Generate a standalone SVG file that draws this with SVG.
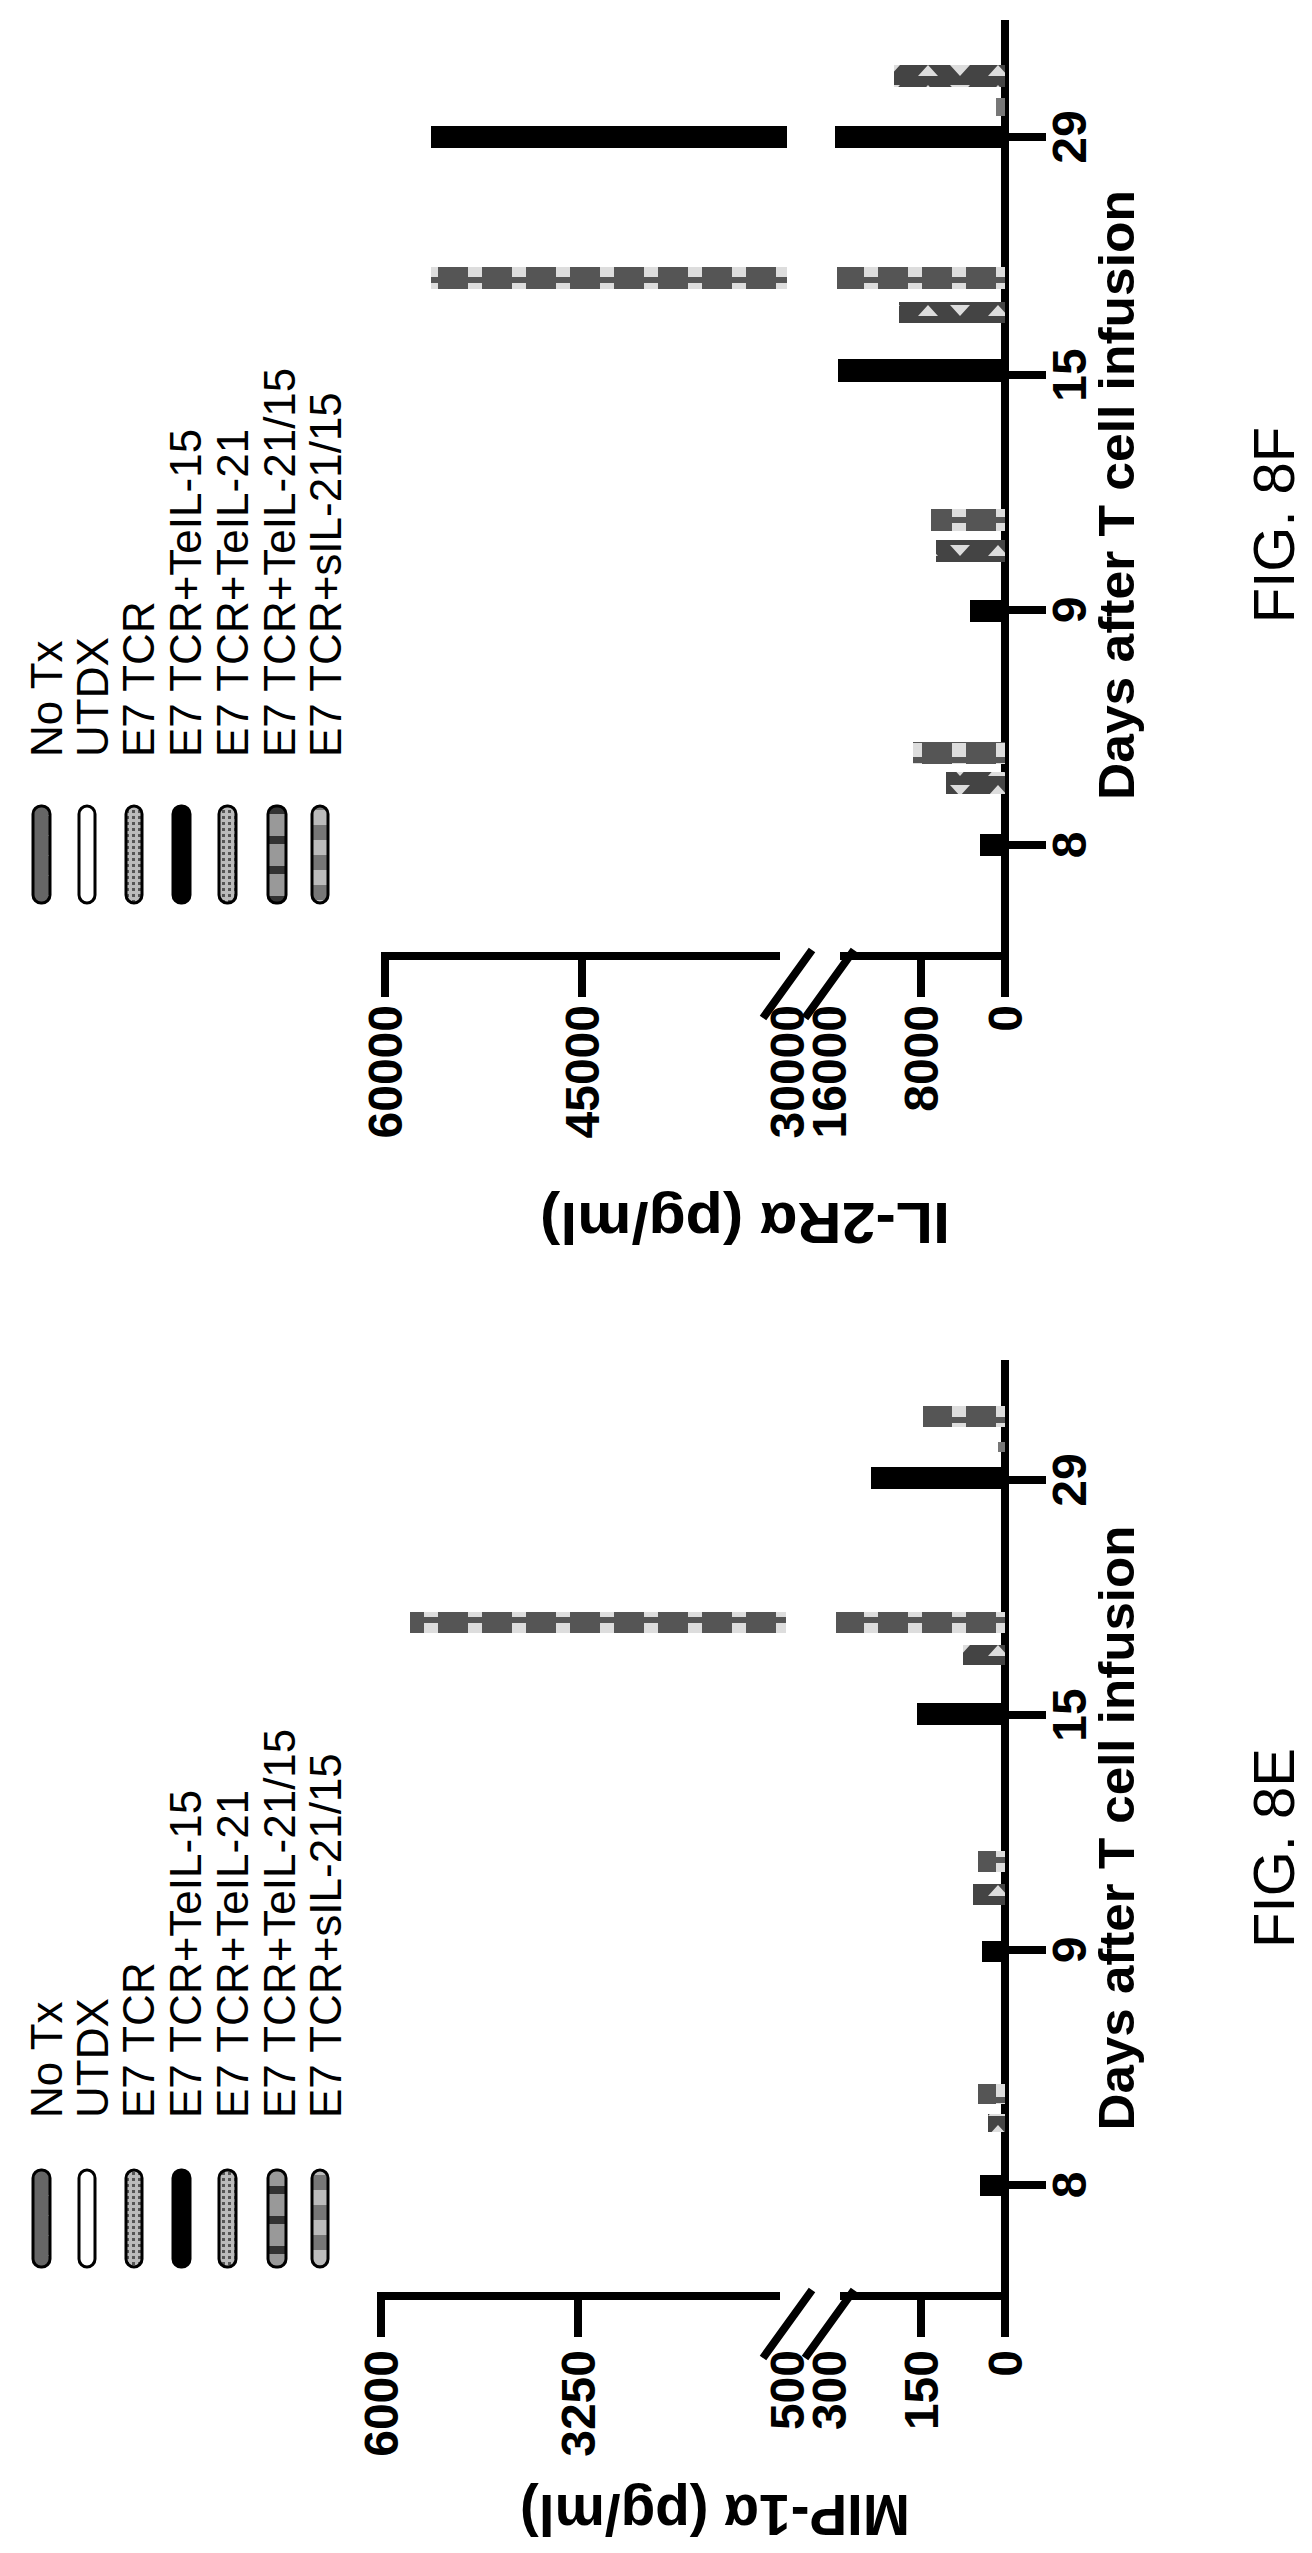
<svg xmlns="http://www.w3.org/2000/svg" width="1312" height="2553" viewBox="0 0 1312 2553">
<defs>
<pattern id="chk" width="44" height="20" patternUnits="userSpaceOnUse"><rect width="44" height="20" fill="#555"/><rect x="28" y="3" width="14" height="14" fill="#ddd"/></pattern>
<pattern id="tri" width="70" height="20" patternUnits="userSpaceOnUse"><rect width="70" height="20" fill="#444"/><path d="M8 16 L18 5 L28 16Z M40 5 L50 16 L60 5Z" fill="#ddd"/></pattern>
<pattern id="ltri" width="40" height="20" patternUnits="userSpaceOnUse"><rect width="40" height="20" fill="#666"/><path d="M8 16 L18 5 L28 16Z" fill="#eee"/></pattern>
<pattern id="dots" width="6" height="6" patternUnits="userSpaceOnUse"><rect width="6" height="6" fill="#bbb"/><rect width="3" height="3" fill="#555"/></pattern>
<pattern id="mid" width="6" height="30" patternUnits="userSpaceOnUse"><rect width="6" height="30" fill="#333"/><rect x="0" y="4" width="6" height="22" fill="#999"/></pattern>
<pattern id="lchk" width="6" height="30" patternUnits="userSpaceOnUse"><rect width="6" height="30" fill="#777"/><rect x="0" y="0" width="6" height="15" fill="#bbb"/></pattern>
</defs>
<style>
.ax{stroke:#000;stroke-width:8;fill:none}
.t{font-family:"Liberation Sans",Arial,sans-serif;fill:#000}
.b{font-weight:bold}
.sw{stroke:#000;stroke-width:3}
</style>

<g id="chart-8F">
<g id="legend-8F" class="t">
<rect class="sw" x="33" y="806" width="17" height="97" rx="8" fill="url(#ltri)"/>
<rect class="sw" x="79" y="806" width="16" height="97" rx="8" fill="#fff"/>
<rect class="sw" x="126" y="806" width="16" height="97" rx="8" fill="url(#dots)"/>
<rect class="sw" x="173" y="806" width="17" height="97" rx="8" fill="#000"/>
<rect class="sw" x="219" y="806" width="17" height="97" rx="8" fill="url(#dots)"/>
<rect class="sw" x="268" y="806" width="18" height="97" rx="8" fill="url(#mid)"/>
<rect class="sw" x="312" y="806" width="16" height="97" rx="8" fill="url(#lchk)"/>
<g font-size="44">
<text transform="translate(62,757) rotate(-90)">No Tx</text>
<text transform="translate(108,757) rotate(-90)">UTDX</text>
<text transform="translate(154,757) rotate(-90)">E7 TCR</text>
<text transform="translate(201,757) rotate(-90)">E7 TCR+TeIL-15</text>
<text transform="translate(248,757) rotate(-90)">E7 TCR+TeIL-21</text>
<text transform="translate(295,757) rotate(-90)">E7 TCR+TeIL-21/15</text>
<text transform="translate(341,757) rotate(-90)">E7 TCR+sIL-21/15</text>
</g>
</g>
<g id="axes-8F">
<path class="ax" d="M1005 20 V997 M1005 845 H1046 M1005 610 H1046 M1005 375 H1046 M1005 137 H1046"/>
<path class="ax" d="M385 997 V956 H780 M840 956 H1005 M582 956 V997 M921 956 V997"/>
<path class="ax" d="M763 1018 L812 950 M805 1018 L854 950"/>
</g>
<g id="bars-8F">
<rect x="980" y="834" width="25" height="22" fill="#000"/>
<rect x="946" y="772" width="59" height="22" fill="url(#tri)"/>
<rect x="913" y="742" width="92" height="22" fill="url(#chk)"/>
<rect x="970" y="600" width="35" height="22" fill="#000"/>
<rect x="936" y="540" width="69" height="22" fill="url(#tri)"/>
<rect x="931" y="509" width="74" height="22" fill="url(#chk)"/>
<rect x="838" y="359" width="167" height="23" fill="#000"/>
<rect x="899" y="302" width="106" height="21" fill="url(#tri)"/>
<rect x="837" y="267" width="168" height="22" fill="url(#chk)"/>
<rect x="431" y="267" width="356" height="22" fill="url(#chk)"/>
<rect x="835" y="126" width="170" height="22" fill="#000"/>
<rect x="431" y="126" width="356" height="22" fill="#000"/>
<rect x="996" y="98" width="9" height="18" fill="#777"/>
<rect x="894" y="65" width="111" height="22" fill="url(#tri)"/>
</g>
<g id="labels-8F" class="t b" font-size="48">
<text transform="translate(1086,845) rotate(-90)" text-anchor="middle">8</text>
<text transform="translate(1086,610) rotate(-90)" text-anchor="middle">9</text>
<text transform="translate(1086,375) rotate(-90)" text-anchor="middle">15</text>
<text transform="translate(1086,137) rotate(-90)" text-anchor="middle">29</text>
<text transform="translate(402,1005) rotate(-90)" text-anchor="end">60000</text>
<text transform="translate(599,1005) rotate(-90)" text-anchor="end">45000</text>
<text transform="translate(804,1005) rotate(-90)" text-anchor="end">30000</text>
<text transform="translate(846,1005) rotate(-90)" text-anchor="end">16000</text>
<text transform="translate(938,1005) rotate(-90)" text-anchor="end">8000</text>
<text transform="translate(1022,1005) rotate(-90)" text-anchor="end">0</text>
<text transform="translate(1134,495) rotate(-90)" text-anchor="middle" font-size="50" textLength="610" lengthAdjust="spacingAndGlyphs">Days after T cell infusion</text>
<text transform="translate(745,1203) rotate(180)" text-anchor="middle" font-size="58" textLength="410" lengthAdjust="spacingAndGlyphs">IL-2Rα (pg/ml)</text>
</g>
<text class="t" transform="translate(1294,525) rotate(-90)" text-anchor="middle" font-size="58">FIG. 8F</text>
</g>

<g id="chart-8E">
<g id="legend-8E" class="t">
<rect class="sw" x="33" y="2170" width="17" height="97" rx="8" fill="url(#ltri)"/>
<rect class="sw" x="79" y="2170" width="16" height="97" rx="8" fill="#fff"/>
<rect class="sw" x="126" y="2170" width="16" height="97" rx="8" fill="url(#dots)"/>
<rect class="sw" x="173" y="2170" width="17" height="97" rx="8" fill="#000"/>
<rect class="sw" x="219" y="2170" width="17" height="97" rx="8" fill="url(#dots)"/>
<rect class="sw" x="268" y="2170" width="18" height="97" rx="8" fill="url(#mid)"/>
<rect class="sw" x="312" y="2170" width="16" height="97" rx="8" fill="url(#lchk)"/>
<g font-size="44">
<text transform="translate(62,2118) rotate(-90)">No Tx</text>
<text transform="translate(108,2118) rotate(-90)">UTDX</text>
<text transform="translate(154,2118) rotate(-90)">E7 TCR</text>
<text transform="translate(201,2118) rotate(-90)">E7 TCR+TeIL-15</text>
<text transform="translate(248,2118) rotate(-90)">E7 TCR+TeIL-21</text>
<text transform="translate(295,2118) rotate(-90)">E7 TCR+TeIL-21/15</text>
<text transform="translate(341,2118) rotate(-90)">E7 TCR+sIL-21/15</text>
</g>
</g>
<g id="axes-8E">
<path class="ax" d="M1005 1360 V2337 M1005 2185 H1046 M1005 1950 H1046 M1005 1715 H1046 M1005 1480 H1046"/>
<path class="ax" d="M381 2337 V2296 H780 M840 2296 H1005 M578 2296 V2337 M921 2296 V2337"/>
<path class="ax" d="M763 2358 L812 2290 M805 2358 L854 2290"/>
</g>
<g id="bars-8E">
<rect x="980" y="2175" width="25" height="21" fill="#000"/>
<rect x="988" y="2114" width="17" height="18" fill="url(#tri)"/>
<rect x="978" y="2084" width="27" height="20" fill="url(#chk)"/>
<rect x="982" y="1941" width="23" height="21" fill="#000"/>
<rect x="973" y="1884" width="32" height="21" fill="url(#tri)"/>
<rect x="978" y="1851" width="27" height="21" fill="url(#chk)"/>
<rect x="917" y="1703" width="88" height="22" fill="#000"/>
<rect x="963" y="1645" width="42" height="20" fill="url(#tri)"/>
<rect x="836" y="1612" width="169" height="21" fill="url(#chk)"/>
<rect x="410" y="1612" width="376" height="21" fill="url(#chk)"/>
<rect x="871" y="1467" width="134" height="22" fill="#000"/>
<rect x="998" y="1442" width="7" height="10" fill="#777"/>
<rect x="923" y="1406" width="82" height="21" fill="url(#chk)"/>
</g>
<g id="labels-8E" class="t b" font-size="48">
<text transform="translate(1086,2185) rotate(-90)" text-anchor="middle">8</text>
<text transform="translate(1086,1950) rotate(-90)" text-anchor="middle">9</text>
<text transform="translate(1086,1715) rotate(-90)" text-anchor="middle">15</text>
<text transform="translate(1086,1480) rotate(-90)" text-anchor="middle">29</text>
<text transform="translate(398,2350) rotate(-90)" text-anchor="end">6000</text>
<text transform="translate(595,2350) rotate(-90)" text-anchor="end">3250</text>
<text transform="translate(804,2350) rotate(-90)" text-anchor="end">500</text>
<text transform="translate(846,2350) rotate(-90)" text-anchor="end">300</text>
<text transform="translate(938,2350) rotate(-90)" text-anchor="end">150</text>
<text transform="translate(1022,2350) rotate(-90)" text-anchor="end">0</text>
<text transform="translate(1134,1828) rotate(-90)" text-anchor="middle" font-size="50" textLength="605" lengthAdjust="spacingAndGlyphs">Days after T cell infusion</text>
<text transform="translate(715,2495) rotate(180)" text-anchor="middle" font-size="58" textLength="390" lengthAdjust="spacingAndGlyphs">MIP-1α (pg/ml)</text>
</g>
<text class="t" transform="translate(1294,1848) rotate(-90)" text-anchor="middle" font-size="58">FIG. 8E</text>
</g>
</svg>
